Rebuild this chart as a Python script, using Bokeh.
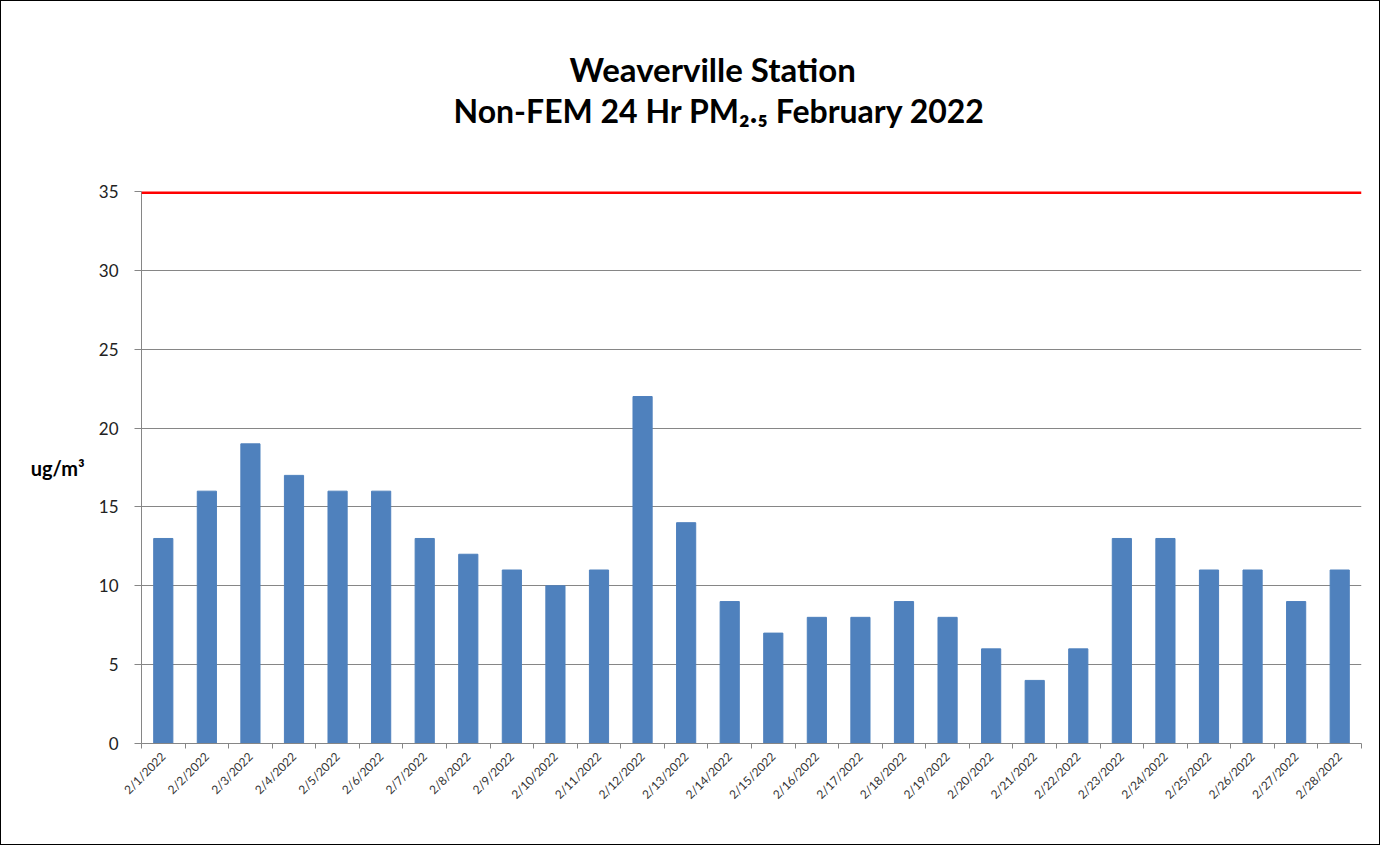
from bokeh.plotting import figure
from bokeh.models import Range1d, FixedTicker, CustomJSTickFormatter, Span, Title
from bokeh.embed import file_html
from bokeh.resources import INLINE
import math

dates = ["2/%d/2022" % d for d in range(1, 29)]
values = [13, 16, 19, 17, 16, 16, 13, 12, 11, 10, 11, 22, 14, 9,
          7, 8, 8, 9, 8, 6, 4, 6, 13, 13, 11, 11, 9, 11]
standard = 35
y_ticks = [0, 5, 10, 15, 20, 25, 30, 35]
title1 = "Weaverville Station"
title2 = "Non-FEM  24 Hr PM\u2082.\u2085  February  2022"
y_label = "ug/m\u00b3"

FONT = "Lato"
W, H = 1380, 845

p = figure(width=W, height=H, output_backend="svg", toolbar_location=None,
           x_range=Range1d(0, len(dates)), y_range=Range1d(0, 35),
           min_border_left=140, min_border_right=20, min_border_top=190,
           min_border_bottom=103, title=None)
p.styles = {"border": "1px solid black", "box-sizing": "border-box"}
p.outline_line_color = None

centers = [i + 0.5 for i in range(len(dates))]
p.vbar(x=centers, top=values, width=0.44, color="#4F81BD")

p.add_layout(Span(location=standard, dimension="width", line_color="#FF0000",
                  line_width=5))

gray = "#868686"
p.xgrid.visible = False
p.ygrid.grid_line_color = gray
p.ygrid.grid_line_width = 1

xa = p.xaxis[0]
xa.ticker = FixedTicker(ticks=centers, minor_ticks=list(range(len(dates) + 1)))
xa.formatter = CustomJSTickFormatter(args=dict(labels=dates),
                                     code="return labels[Math.floor(tick)];")
xa.major_label_orientation = math.pi / 4
xa.major_tick_out = 0
xa.major_tick_in = 0
xa.minor_tick_out = 5
xa.minor_tick_in = 0
xa.minor_tick_line_color = gray
xa.axis_line_color = gray
xa.major_label_text_font = FONT
xa.major_label_text_font_size = "12px"
xa.major_label_text_color = "#333333"
xa.major_label_standoff = 6

ya = p.yaxis[0]
ya.ticker = FixedTicker(ticks=y_ticks)
ya.minor_tick_line_color = None
ya.major_tick_out = 7
ya.major_tick_in = 0
ya.major_tick_line_color = gray
ya.axis_line_color = gray
ya.major_label_text_font = FONT
ya.major_label_text_font_size = "17px"
ya.major_label_text_color = "#222222"
ya.major_label_standoff = 16
ya.axis_label = y_label
ya.axis_label_orientation = "horizontal"
ya.axis_label_text_font = FONT
ya.axis_label_text_font_size = "20px"
ya.axis_label_text_font_style = "bold"
ya.axis_label_text_color = "#000000"
ya.axis_label_standoff = 11

title_props = Title.properties()

def add_title(text, size, offset):
    kw = dict(text=text, align="left", offset=offset, text_font=FONT,
              text_font_size=size, text_font_style="bold", text_color="#000000")
    if "standoff" in title_props:
        kw["standoff"] = 0
    p.add_layout(Title(**kw), "above")

add_title("\u00a0", "50px", 0)   # spacing between the frame and the title block
add_title(title2, "32px", 312)
add_title(title1, "33px", 428)

open("out.html", "w").write(file_html(p, INLINE))
